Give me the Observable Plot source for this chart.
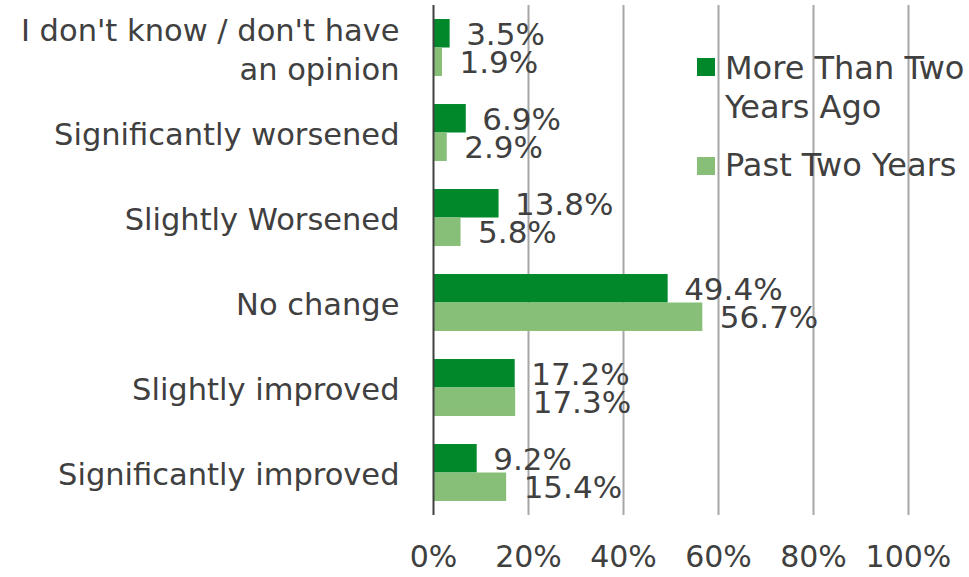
<!DOCTYPE html>
<html>
<head>
<meta charset="utf-8">
<script src="https://cdn.jsdelivr.net/npm/d3@7"></script>
<script src="https://cdn.jsdelivr.net/npm/@observablehq/plot@0.6"></script>
<style>
  html, body { margin: 0; padding: 0; background: #fff; }
  body { font-family: "DejaVu Sans", sans-serif; color: #404040; }
  #wrap { position: relative; width: 969px; height: 577px; }
  .legend { position: absolute; left: 697px; top: 0; font-size: 32px; color: #404040; }
  .item { position: absolute; left: 0; white-space: nowrap; }
  .sw { position: absolute; left: 0; width: 18px; height: 18px; }
  .lab { position: absolute; left: 28px; line-height: 39px; }
</style>
</head>
<body>
<div id="wrap"></div>
<script>
const categories = [
  "I don't know / don't have an opinion",
  "Significantly worsened",
  "Slightly Worsened",
  "No change",
  "Slightly improved",
  "Significantly improved"
];
const categoryLines = [
  "I don't know / don't have\nan opinion",
  "Significantly worsened",
  "Slightly Worsened",
  "No change",
  "Slightly improved",
  "Significantly improved"
];
const seriesNames = ["More Than Two Years Ago", "Past Two Years"];
const moreThanTwoYearsAgo = [3.5, 6.9, 13.8, 49.4, 17.2, 9.2];
const pastTwoYears = [1.9, 2.9, 5.8, 56.7, 17.3, 15.4];
const xTicks = [0, 20, 40, 60, 80, 100];
const colors = ["#00882B", "#88BF78"];

const rows = categories.map((c, i) => ({cat: c, a: moreThanTwoYearsAgo[i], b: pastTwoYears[i]}));
const labelOf = new Map(categories.map((c, i) => [c, categoryLines[i]]));

const half = 85 * 0.67 / 2;
const fs = 31;

const chart = Plot.plot({
  width: 969,
  height: 577,
  marginLeft: 433,
  marginRight: 61,
  marginTop: 5,
  marginBottom: 62,
  style: {fontFamily: '"DejaVu Sans", sans-serif', fontSize: fs + "px", color: "#404040", background: "#fff"},
  x: {domain: [0, 100], ticks: xTicks, tickFormat: d => d + "%", label: null},
  y: {domain: categories, paddingInner: 0.33, paddingOuter: 0.165, round: false, label: null},
  marks: [
    Plot.ruleX(xTicks.filter(d => d > 0), {stroke: "#a6a6a6", strokeWidth: 2}),
    Plot.barX(rows, {x: "a", y: "cat", fill: colors[0], insetBottom: half}),
    Plot.barX(rows, {x: "b", y: "cat", fill: colors[1], insetTop: half}),
    Plot.ruleX([0], {stroke: "#404040", strokeWidth: 2}),
    Plot.text(rows, {x: "a", y: "cat", text: d => d.a.toFixed(1) + "%", textAnchor: "start", dx: 16, dy: -half / 2 + 1, fill: "#404040", fontSize: fs}),
    Plot.text(rows, {x: "b", y: "cat", text: d => d.b.toFixed(1) + "%", textAnchor: "start", dx: 17, dy: half / 2 + 1, fill: "#404040", fontSize: fs}),
    Plot.axisY({tickSize: 0, tickPadding: 34, tickFormat: d => labelOf.get(d), fontSize: 30.5, lineHeight: 1.27, fill: "#404040", label: null}),
    Plot.axisX({ticks: xTicks, tickSize: 0, tickPadding: 30, tickFormat: d => d + "%", fontSize: 30, fill: "#404040", label: null})
  ]
});

const wrap = document.getElementById("wrap");
wrap.appendChild(chart);

const legend = document.createElement("div");
legend.className = "legend";
const items = [
  {name: "More Than Two\nYears Ago", color: colors[0], top: 49, sw: 9},
  {name: "Past Two Years", color: colors[1], top: 146, sw: 11}
];
items.forEach(it => {
  const d = document.createElement("div");
  d.className = "item";
  d.style.top = it.top + "px";
  const s = document.createElement("div");
  s.className = "sw";
  s.style.background = it.color;
  s.style.top = it.sw + "px";
  const l = document.createElement("div");
  l.className = "lab";
  l.innerHTML = it.name.split("\n").join("<br>");
  d.appendChild(s);
  d.appendChild(l);
  legend.appendChild(d);
});
wrap.appendChild(legend);
</script>
</body>
</html>
